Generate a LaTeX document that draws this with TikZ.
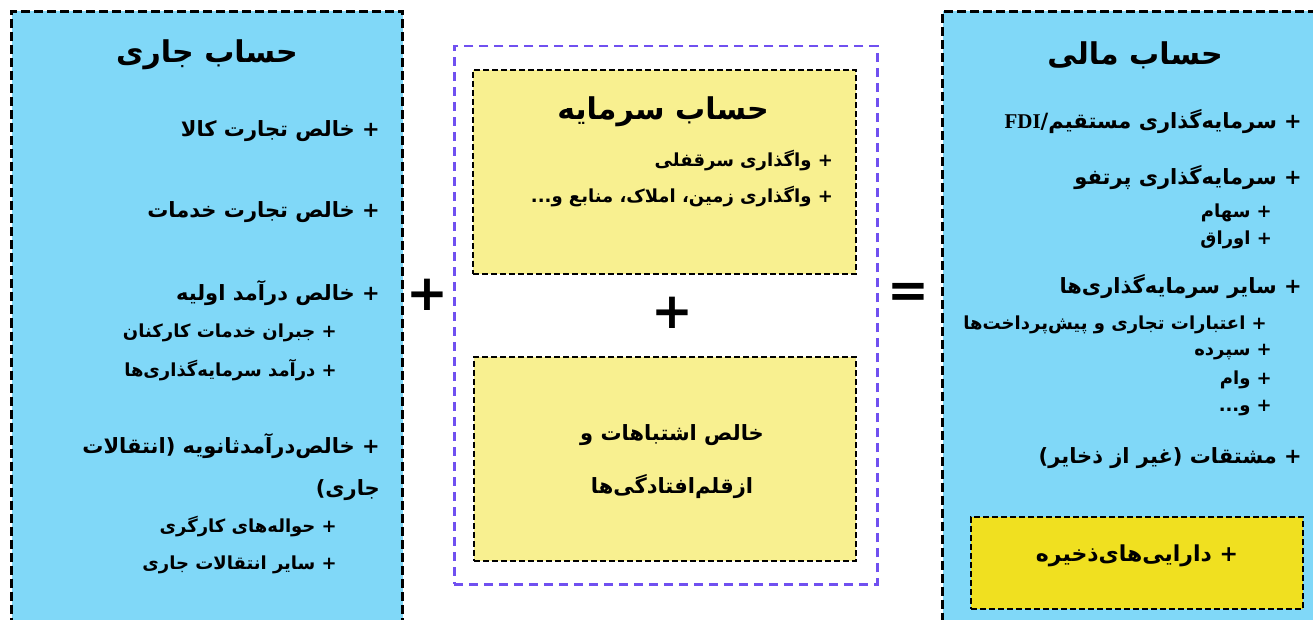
\documentclass[tikz,border=0pt]{standalone}
\usepackage{fontspec}
\TeXXeTstate=1
\newfontfamily\arfont[Script=Arabic]{DejaVu Sans}
\newfontfamily\latfont{Liberation Serif}
\newfontfamily\symfont{DejaVu Sans}
\newcommand\fa[1]{{\arfont\bfseries\beginR #1\endR}}
\definecolor{blueF}{HTML}{80D8F8}
\definecolor{yelF}{HTML}{F8F090}
\definecolor{resF}{HTML}{F0E020}
\definecolor{purp}{HTML}{7050F0}
\tikzset{
  bigbox/.style={draw=black, line width=3pt, dash pattern=on 9pt off 4pt, fill=blueF, anchor=north west, inner sep=0pt},
  groupbox/.style={draw=purp, line width=2.5pt, dash pattern=on 9pt off 6pt, anchor=north west, inner sep=0pt},
  yelbox/.style={draw=black, line width=2.2pt, dash pattern=on 6pt off 3pt, fill=yelF, anchor=north west, inner sep=0pt},
  resbox/.style={draw=black, line width=2.2pt, dash pattern=on 6pt off 3pt, fill=resF, anchor=north west, inner sep=0pt},
  ttl/.style={inner sep=0pt, font=\fontsize{30}{36}\selectfont},
  itm/.style={inner sep=0pt, anchor=east, font=\fontsize{21}{26}\selectfont},
  sub/.style={inner sep=0pt, anchor=east, font=\fontsize{18}{22}\selectfont},
  op/.style={inner sep=0pt, font=\fontsize{50}{50}\selectfont\symfont\bfseries}
}
\begin{document}
\begin{tikzpicture}[x=1pt,y=-1pt]
\useasboundingbox (0,0) rectangle (1313,620);
\clip (0,0) rectangle (1313,620);
% containers
\node[bigbox, minimum width=391pt, minimum height=640pt] (cur) at (10,10) {};
\node[bigbox, minimum width=400pt, minimum height=640pt] (fin) at (941,10) {};
\node[groupbox, minimum width=423pt, minimum height=538pt] (grp) at (453,45) {};
\node[yelbox, minimum width=383pt, minimum height=204pt] (cap) at (472,69) {};
\node[yelbox, minimum width=382pt, minimum height=204pt] (err) at (473,356) {};
\node[resbox, minimum width=332pt, minimum height=92pt] (res) at (970,516) {};
% operators
\node[op] (plusA) at (427,295) {+};
\node[op] (plusB) at (672,313) {+};
\node[op] (eq) at (908,295) {=};
% current account
\node[ttl] (curT) at (207,55) {\fa{حساب جاری}};
\node[itm] (c1) at (380,131) {\fa{+ خالص تجارت کالا}};
\node[itm] (c2) at (380,212) {\fa{+ خالص تجارت خدمات}};
\node[itm] (c3) at (380,293) {\fa{+ خالص درآمد اولیه}};
\node[sub] (c3a) at (337,333) {\fa{+ جبران خدمات کارکنان}};
\node[sub] (c3b) at (337,370) {\fa{+ درآمد سرمایه‌گذاری‌ها}};
\node[itm] (c4) at (380,446) {\fa{+ خالص‌درآمد‌ثانویه (انتقالات}};
\node[itm] (c4b) at (380,490) {\fa{جاری)}};
\node[sub] (c4c) at (337,527) {\fa{+ حواله‌های کارگری}};
\node[sub] (c4d) at (337,565) {\fa{+ سایر انتقالات جاری}};
% capital account
\node[ttl] (capT) at (663,112) {\fa{حساب سرمایه}};
\node[sub] (k1) at (833,161) {\fa{+ واگذاری سرقفلی}};
\node[sub] (k2) at (833,197) {\fa{+ واگذاری زمین، املاک، منابع و...}};
% errors
\node[itm, anchor=center] (e1) at (672,435) {\fa{خالص اشتباهات و}};
\node[itm, anchor=center] (e2) at (672,487) {\fa{ازقلم‌افتادگی‌ها}};
% financial account
\node[ttl] (finT) at (1135,55) {\fa{حساب مالی}};
\node[itm] (f1) at (1302,122) {\fa{+ سرمایه‌گذاری مستقیم/\beginL{\latfont FDI}\endL}};
\node[itm] (f2) at (1302,178) {\fa{+ سرمایه‌گذاری پرتفو}};
\node[sub] (f2a) at (1272,213) {\fa{+ سهام}};
\node[sub] (f2b) at (1272,240) {\fa{+ اوراق}};
\node[itm] (f3) at (1302,287) {\fa{+ سایر سرمایه‌گذاری‌ها}};
\node[sub] (f3a) at (1267,325) {\fa{+ اعتبارات تجاری و پیش‌پرداخت‌ها}};
\node[sub] (f3b) at (1272,352) {\fa{+ سپرده}};
\node[sub] (f3c) at (1272,380) {\fa{+ وام}};
\node[sub] (f3d) at (1272,408) {\fa{+ و...}};
\node[itm] (f4) at (1302,458) {\fa{+ مشتقات (غیر از ذخایر)}};
\node[itm, anchor=center, font=\fontsize{22}{26}\selectfont] (r1) at (1137,556) {\fa{+ دارایی‌های‌ذخیره}};
\end{tikzpicture}
\end{document}
